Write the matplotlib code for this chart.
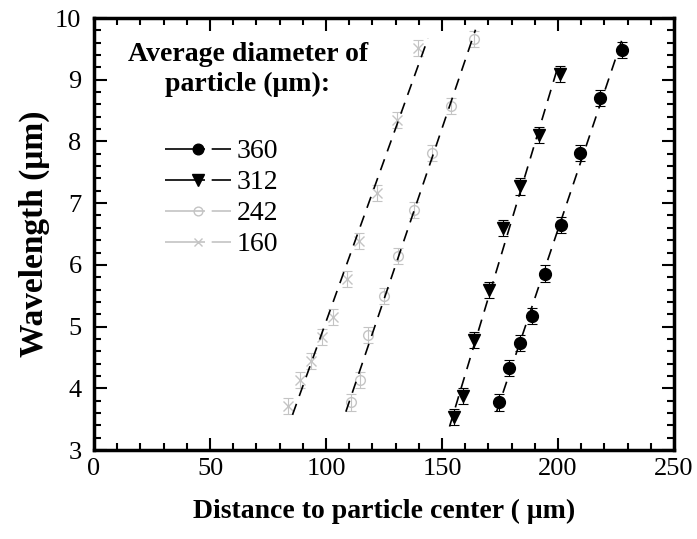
"""
Wavelength vs distance to particle center, four particle sizes
"""

import numpy as np
import matplotlib
matplotlib.use('Agg')
import matplotlib.pyplot as plt
from matplotlib.ticker import MultipleLocator

labels = ['360', '312', '242', '160']

x360 = [174.7, 178.8, 183.5, 188.6, 194.6, 201.4, 209.3, 218.0, 227.5]
y360 = [3.77, 4.33, 4.74, 5.17, 5.86, 6.65, 7.82, 8.71, 9.48]

x312 = [155.1, 159.2, 163.9, 170.1, 176.3, 183.7, 191.6, 201.0]
y312 = [3.53, 3.88, 4.79, 5.60, 6.60, 7.27, 8.10, 9.10]

x242 = [110.7, 114.5, 118.3, 124.8, 131.1, 137.8, 145.8, 153.7, 163.8]
y242 = [3.77, 4.13, 4.86, 5.50, 6.14, 6.89, 7.81, 8.58, 9.66]

x160 = [83.8, 88.8, 93.6, 98.2, 103.0, 109.0, 114.3, 122.0, 130.6, 139.6]
y160 = [3.72, 4.13, 4.45, 4.83, 5.15, 5.77, 6.38, 7.16, 8.34, 9.52]

yerr = 0.13

GRAY = '#c4c4c4'


def main():
    plt.rcParams['font.family'] = ['Liberation Serif', 'DejaVu Serif']
    fig = plt.figure(figsize=(6.97, 5.39), dpi=100)
    ax = fig.add_axes([0.1349, 0.1651, 0.8321, 0.8015])

    series = [
        (x360, y360, dict(marker='o', color='black', mfc='black', ms=8.5)),
        (x312, y312, dict(marker='v', color='black', mfc='black', ms=9)),
        (x242, y242, dict(marker='o', color=GRAY, mfc='none', ms=7)),
        (x160, y160, dict(marker='x', color=GRAY, mfc='none', ms=7)),
    ]

    handles = []
    for (xs, ys, st), lab in zip(series, labels):
        xs = np.array(xs)
        ys = np.array(ys)
        ax.errorbar(xs, ys, yerr=yerr, fmt='none', ecolor=st['color'],
                    elinewidth=0.8, capsize=3.5, capthick=0.8, zorder=2)
        ax.plot(xs, ys, linestyle='none', marker=st['marker'],
                color=st['color'], mfc=st['mfc'], ms=st['ms'], zorder=3)
        # dashed linear fit
        k, b = np.polyfit(ys, xs, 1)
        yy = np.array([ys.min() - 0.15, ys.max() + 0.15])
        ax.plot(k * yy + b, yy, color='black', lw=1.2,
                dashes=(7, 5), zorder=4)
        h, = ax.plot([], [], color=st['color'], lw=1.2, dashes=(24, 4),
                     marker=st['marker'], mfc=st['mfc'], mec=st['color'],
                     ms=st['ms'] * 0.9)
        handles.append(h)

    ax.set_xlim(0, 250)
    ax.set_ylim(3, 10)
    ax.xaxis.set_major_locator(MultipleLocator(50))
    ax.xaxis.set_minor_locator(MultipleLocator(10))
    ax.yaxis.set_major_locator(MultipleLocator(1))
    ax.yaxis.set_minor_locator(MultipleLocator(0.2))
    ax.tick_params(which='both', direction='in', top=True, right=True,
                   labelsize=19, width=1.5)
    ax.tick_params(which='major', length=9)
    ax.tick_params(which='minor', length=5)
    ax.tick_params(axis='x', which='major', pad=6)
    ax.tick_params(axis='y', which='major', pad=9)
    for sp in ax.spines.values():
        sp.set_linewidth(2.5)

    ax.set_xlabel('Distance to particle center ( \u03bcm)', fontsize=20,
                  fontweight='bold', labelpad=13)
    ax.set_ylabel('Wavelength (\u03bcm)', fontsize=24, fontweight='bold',
                  labelpad=4)

    ax.text(0.265, 0.945, 'Average diameter of\nparticle (\u03bcm):',
            transform=ax.transAxes, ha='center', va='top', fontsize=20,
            fontweight='bold', linespacing=1.25)

    ax.legend(handles, labels, loc='upper left',
              bbox_to_anchor=(0.122, 0.72), frameon=False, borderpad=0,
              fontsize=20, handlelength=2.4, handletextpad=0.2,
              labelspacing=0.2, borderaxespad=0)

    fig.savefig('out.png', dpi=100)


if __name__ == '__main__':
    main()
